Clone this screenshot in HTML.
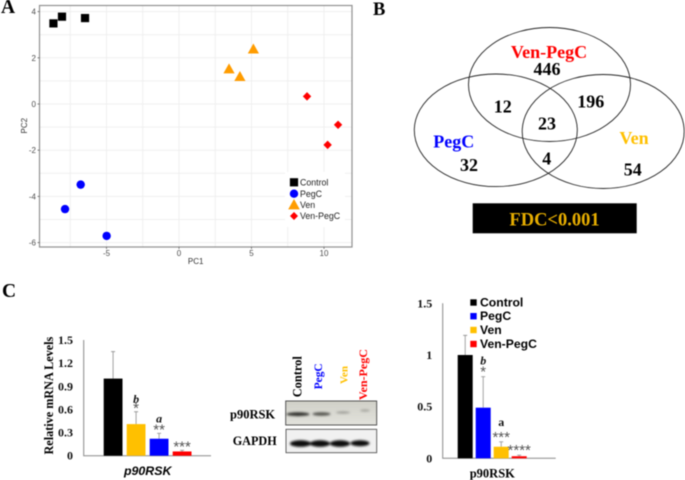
<!DOCTYPE html>
<html lang="en">
<head>
<meta charset="utf-8">
<title>PCA, Venn diagram and p90RSK levels</title>
<style>
html,body{margin:0;padding:0;background:#fff;width:685px;height:480px;overflow:hidden}
svg{display:block;filter:blur(0.45px)}
.tb{font-family:"Liberation Serif",serif;font-weight:bold}
.sb{font-family:"Liberation Sans",sans-serif;font-weight:bold}
.sr{font-family:"Liberation Sans",sans-serif}
.m{text-anchor:middle}
.e{text-anchor:end}
</style>
</head>
<body>
<svg id="fig" width="685" height="480" viewBox="0 0 685 480" xmlns="http://www.w3.org/2000/svg">
<defs>
<filter id="bandBlur" x="-30%" y="-100%" width="160%" height="300%"><feGaussianBlur stdDeviation="1.1"/></filter>
<linearGradient id="blotBg" x1="0" y1="0" x2="0" y2="1"><stop offset="0" stop-color="#d0d0c8"/><stop offset="1" stop-color="#e2e2dc"/></linearGradient>
</defs>

<text class="tb" x="1" y="13" font-size="19.5">A</text>
<text class="tb" x="373" y="15" font-size="18.5">B</text>
<text class="tb" x="2" y="297" font-size="19.5">C</text>

<g id="pca"></g>
<text class="sr m" x="195.7" y="264" font-size="8" fill="#333">PC1</text>
<text class="sr m" transform="translate(27,125.7) rotate(-90)" font-size="8" fill="#333">PC2</text>

<g fill="none" stroke="#222" stroke-width="0.9">
<ellipse cx="549.5" cy="84.5" rx="81" ry="57"/>
<ellipse cx="495.8" cy="130.3" rx="81.5" ry="56.3"/>
<ellipse cx="603.2" cy="131.5" rx="81" ry="57"/>
</g>
<g class="tb m" font-size="18">
<text x="549" y="58" fill="#ff0000">Ven-PegC</text>
<text x="547" y="75" fill="#000">446</text>
<text x="502.7" y="112.7" fill="#000">12</text>
<text x="590.7" y="107.7" fill="#000">196</text>
<text x="547" y="129.7" fill="#000">23</text>
<text x="453.7" y="147.7" fill="#0000ff">PegC</text>
<text x="469" y="171" fill="#000">32</text>
<text x="546.7" y="164.7" fill="#000">4</text>
<text x="634" y="144" fill="#ffc000">Ven</text>
<text x="632.7" y="175.3" fill="#000">54</text>
</g>
<rect x="472.7" y="203.3" width="164" height="30" fill="#000"/>
<text class="tb m" x="554.5" y="225.5" font-size="18.5" fill="#e6ad00">FDC&lt;0.001</text>

<g id="mrna"></g>
<text class="tb m" transform="translate(53,395.6) rotate(-90)" font-size="12.2" fill="#000">Relative mRNA Levels</text>
<text class="sb m" x="147.7" y="475" font-size="12.4" font-style="italic" fill="#000">p90RSK</text>

<g>
<text class="tb" transform="translate(301.7,397.3) rotate(-90)" font-size="12.4" fill="#000">Control</text>
<text class="tb" transform="translate(322,389.3) rotate(-90)" font-size="11.4" fill="#0000ff">PegC</text>
<text class="tb" transform="translate(347.3,384) rotate(-90)" font-size="11" fill="#ffc000">Ven</text>
<text class="tb" transform="translate(367,400) rotate(-90)" font-size="12" fill="#ff0000">Ven-PegC</text>
<text class="tb" x="230" y="418.3" font-size="12.5" fill="#000">p90RSK</text>
<text class="tb" x="232.7" y="445" font-size="12.2" fill="#000">GAPDH</text>
<rect x="285.7" y="401" width="91" height="24" fill="url(#blotBg)"/>
<g filter="url(#bandBlur)">
<ellipse cx="298" cy="414.2" rx="11.5" ry="1.9" fill="#33332f"/>
<ellipse cx="321.5" cy="414" rx="9" ry="1.7" fill="#55554f"/>
<ellipse cx="343" cy="412.5" rx="7" ry="1.1" fill="#9a9a94"/>
<ellipse cx="365" cy="410.5" rx="5" ry="1.1" fill="#a3a39d"/>
</g>
<rect x="285.7" y="401" width="91" height="24" fill="none" stroke="#444" stroke-width="0.9"/>
<rect x="286" y="429.3" width="90.7" height="23.4" fill="#f1f1f1" stroke="#555" stroke-width="0.9"/>
<g filter="url(#bandBlur)" fill="#0c0c0c">
<ellipse cx="300.5" cy="443.6" rx="10.5" ry="3.3"/>
<ellipse cx="320" cy="443.6" rx="10" ry="3.3"/>
<ellipse cx="340" cy="443.6" rx="10" ry="3.3"/>
<ellipse cx="360" cy="443.3" rx="9.5" ry="3"/>
</g>
</g>

<g id="levels"></g>
<text class="tb m" x="492.3" y="477.7" font-size="12.5" fill="#000">p90RSK</text>
<g class="sb" font-size="12.2" fill="#000">
<rect x="470.3" y="299.3" width="6.4" height="6.4" fill="#000"/>
<text x="480" y="306.3">Control</text>
<rect x="470.3" y="313" width="6.4" height="6.4" fill="#0000ff"/>
<text x="480" y="320">PegC</text>
<rect x="470.3" y="326.8" width="6.4" height="6.4" fill="#ffc000"/>
<text x="480" y="334">Ven</text>
<rect x="470.3" y="340.8" width="6.4" height="6.4" fill="#ff0000"/>
<text x="480" y="348">Ven-PegC</text>
</g>
</svg>

<script>
// ---- PCA data ----
const controlPC1 = [-8.66, -8.07, -6.48];
const controlPC2 = [3.49, 3.78, 3.72];
const pegcPC1 = [-6.78, -7.86, -4.99];
const pegcPC2 = [-3.49, -4.55, -5.71];
const venPC1 = [3.45, 4.2, 5.13];
const venPC2 = [1.53, 1.2, 2.39];
const venPegcPC1 = [8.83, 10.97, 10.25];
const venPegcPC2 = [0.33, -0.9, -1.77];
const pcaXTicks = [-5, 0, 5, 10];
const pcaYTicks = [4, 2, 0, -2, -4, -6];
const pcaLegendLabels = ['Control', 'PegC', 'Ven', 'Ven-PegC'];

// ---- mRNA bar chart data ----
const mrnaGroups = ['Control', 'Ven', 'PegC', 'Ven-PegC'];
const mrnaValues = [1.0, 0.41, 0.22, 0.055];
const mrnaErrors = [0.35, 0.16, 0.07, 0.015];
const mrnaStars = ['', '*', '**', '***'];
const mrnaLetters = ['', 'b', 'a', ''];
const mrnaTicks = ['0', '0.3', '0.6', '0.9', '1.2', '1.5'];

// ---- protein levels bar chart data ----
const levelGroups = ['Control', 'PegC', 'Ven', 'Ven-PegC'];
const levelValues = [1.0, 0.49, 0.112, 0.02];
const levelErrors = [0.19, 0.3, 0.048, 0.01];
const levelStars = ['', '*', '***', '****'];
const levelLetters = ['', 'b', 'a', ''];
const levelTicks = ['0', '0.5', '1', '1.5'];

const NS = 'http://www.w3.org/2000/svg';
const groupColor = {'Control':'#000000','PegC':'#0000ff','Ven':'#ffc000','Ven-PegC':'#ff0000'};

function mk(parent, tag, attrs, txt) {
  const el = document.createElementNS(NS, tag);
  for (const k in attrs) el.setAttribute(k, attrs[k]);
  if (txt !== undefined) el.textContent = txt;
  parent.appendChild(el);
  return el;
}

// ---- PCA scatter ----
(function () {
  const g = document.getElementById('pca');
  const px = v => 179 + 14.5 * v;
  const py = v => 104 - 23.1 * v;
  const L = 39.5, R = 352, T = 5.5, B = 247;

  const bg = mk(g, 'rect', {x: L, y: T, width: R - L, height: B - T, fill: '#fff'});
  
  

  for (let v = -7.5; v <= 10; v += 2.5) {
    const line = mk(g, 'line', {x1: px(v), x2: px(v), y1: T, y2: B, stroke: '#efefef', 'stroke-width': 1});
    
    
  }
  for (let v = -6; v <= 4; v += 1) {
    const line = mk(g, 'line', {x1: L, x2: R, y1: py(v), y2: py(v), stroke: '#efefef', 'stroke-width': 1});
    
    
  }
  const frame = mk(g, 'rect', {x: L, y: T, width: R - L, height: B - T, fill: 'none', stroke: '#909090', 'stroke-width': 1.2});
  
  

  pcaXTicks.forEach(t => {
    const tick = mk(g, 'line', {x1: px(t), x2: px(t), y1: B, y2: B + 2, stroke: '#555', 'stroke-width': 0.7});
    
    
    const lab = mk(g, 'text', {x: px(t), y: 256, 'font-size': 8, fill: '#4d4d4d', 'text-anchor': 'middle', 'font-family': '"Liberation Sans",sans-serif'}, String(t));
    
    
  });
  pcaYTicks.forEach(t => {
    const tick = mk(g, 'line', {x1: L - 2, x2: L, y1: py(t), y2: py(t), stroke: '#555', 'stroke-width': 0.7});
    
    
    const lab = mk(g, 'text', {x: 36, y: py(t) + 3, 'font-size': 8, fill: '#4d4d4d', 'text-anchor': 'end', 'font-family': '"Liberation Sans",sans-serif'}, String(t));
    
    
  });

  function square(cx, cy, s) { return mk(g, 'rect', {x: cx - s / 2, y: cy - s / 2, width: s, height: s, fill: '#000'}); }
  function circle(cx, cy, r) { return mk(g, 'circle', {cx: cx, cy: cy, r: r, fill: '#0000ff'}); }
  function tri(cx, cy, s) { return mk(g, 'polygon', {points: (cx - s) + ',' + (cy + s * 0.85) + ' ' + (cx + s) + ',' + (cy + s * 0.85) + ' ' + cx + ',' + (cy - s * 0.95), fill: '#ff9c00'}); }
  function diamond(cx, cy, s) { return mk(g, 'polygon', {points: cx + ',' + (cy - s) + ' ' + (cx + s) + ',' + cy + ' ' + cx + ',' + (cy + s) + ' ' + (cx - s) + ',' + cy, fill: '#ff0000'}); }

  controlPC1.forEach((v, i) => {
    const m = square(px(v), py(controlPC2[i]), 8.2);
    
    
  });
  pegcPC1.forEach((v, i) => {
    const m = circle(px(v), py(pegcPC2[i]), 4.2);
    
    
  });
  venPC1.forEach((v, i) => {
    const m = tri(px(v), py(venPC2[i]), 5.6);
    
    
  });
  venPegcPC1.forEach((v, i) => {
    const m = diamond(px(v), py(venPegcPC2[i]), 4.2);
    
    
  });

  const box = mk(g, 'rect', {x: 285, y: 172, width: 60, height: 55, fill: '#fff'});
  
  

  const k0 = square(294, 182.3, 8.2);
  
  
  const k1 = circle(294, 193.7, 4.2);
  
  
  const k2 = tri(294, 204.5, 5.8);
  
  
  const k3 = diamond(294, 216, 4);
  
  

  pcaLegendLabels.forEach((t, i) => {
    const lab = mk(g, 'text', {x: 300, y: 185.6 + i * 11.2, 'font-size': 8.8, fill: '#222', 'font-family': '"Liberation Sans",sans-serif'}, t);
    
    
  });
})();

// ---- Bar chart drawing ----
function drawBars(g, cfg) {
  const y = v => cfg.base - cfg.scale * v;
  const axis = mk(g, 'path', {d: 'M' + cfg.axisX + ' ' + cfg.top + 'V' + cfg.base + 'H' + cfg.right, fill: 'none', stroke: '#8a8a8a', 'stroke-width': 1});
  
  

  cfg.ticks.forEach(t => {
    const lab = mk(g, 'text', {x: cfg.tickX, y: y(parseFloat(t)) + 4, 'font-size': 12, 'text-anchor': 'end', 'font-weight': 'bold', fill: '#111', 'font-family': '"Liberation Serif",serif'}, t);
    
    
  });

  cfg.groups.forEach((name, i) => {
    const x0 = cfg.x0 + i * cfg.step;
    const cx = x0 + cfg.width / 2;
    const val = cfg.values[i];
    const errTop = y(val + cfg.errors[i]);

    const err = mk(g, 'path', {d: 'M' + cx + ' ' + y(val) + 'V' + errTop + 'M' + (cx - 2) + ' ' + errTop + 'H' + (cx + 2), fill: 'none', stroke: '#999', 'stroke-width': 0.9});
    
    

    const bar = mk(g, 'rect', {x: x0, y: y(val), width: cfg.width, height: cfg.base - y(val), fill: groupColor[name]});
    
    

    if (cfg.stars[i]) {
      const s = mk(g, 'text', {x: cx, y: errTop - cfg.starGap + 6, 'font-size': 15, 'text-anchor': 'middle', fill: '#555', 'font-family': '"Liberation Sans",sans-serif'}, cfg.stars[i]);
      
      
    }
    if (cfg.letters[i]) {
      const off = cfg.letterGap[cfg.letters[i]];
      const l = mk(g, 'text', {x: cx, y: errTop - off, 'font-size': 12, 'text-anchor': 'middle', 'font-weight': 'bold', 'font-style': (cfg.letterItalic[cfg.letters[i]] ? 'italic' : 'normal'), fill: '#111', 'font-family': '"Liberation Serif",serif'}, cfg.letters[i]);
      
      
    }
  });
}

drawBars(document.getElementById('mrna'), {
  axisX: 83.7, top: 340, base: 455.7, right: 211, scale: 77.1, tickX: 73,
  x0: 103.7, step: 23, width: 18.8,
  groups: mrnaGroups, values: mrnaValues, errors: mrnaErrors, stars: mrnaStars, letters: mrnaLetters, ticks: mrnaTicks,
  starGap: 5, letterGap: {b: 9, a: 10.6}, letterItalic: {b: true, a: true}
});

drawBars(document.getElementById('levels'), {
  axisX: 442.7, top: 303.3, base: 458.3, right: 555.7, scale: 103.3, tickX: 432.3,
  x0: 457.7, step: 18, width: 15,
  groups: levelGroups, values: levelValues, errors: levelErrors, stars: levelStars, letters: levelLetters, ticks: levelTicks,
  starGap: 6, letterGap: {b: 12, a: 15.7}, letterItalic: {b: true, a: false}
});
</script>
</body>
</html>
